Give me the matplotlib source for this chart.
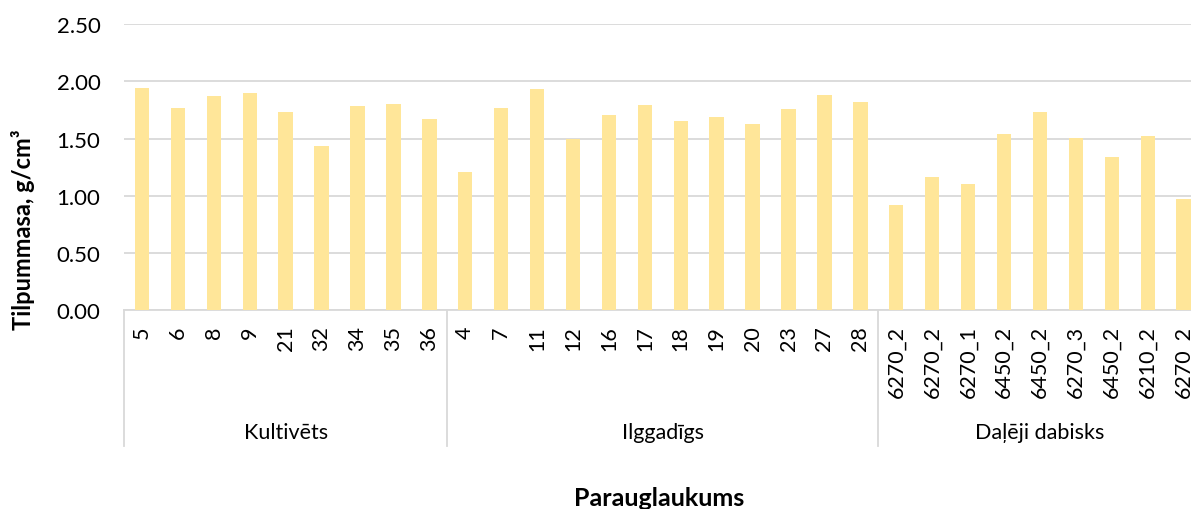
import numpy as np
import matplotlib
matplotlib.use("Agg")
import matplotlib.pyplot as plt
import matplotlib.transforms as mtransforms

plt.rcParams['font.family'] = ['Lato', 'DejaVu Sans']

groups = ["Kultivēts", "Ilggadīgs", "Daļēji dabisks"]
labels_kult = ["5", "6", "8", "9", "21", "32", "34", "35", "36"]
values_kult = [1.94, 1.77, 1.87, 1.90, 1.735, 1.435, 1.785, 1.80, 1.67]
labels_ilg = ["4", "7", "11", "12", "16", "17", "18", "19", "20", "23", "27", "28"]
values_ilg = [1.21, 1.77, 1.935, 1.495, 1.705, 1.79, 1.65, 1.69, 1.625, 1.755, 1.88, 1.82]
labels_dab = ["6270_2", "6270_2", "6270_1", "6450_2", "6450_2", "6270_3", "6450_2", "6210_2", "6270_2"]
values_dab = [0.92, 1.16, 1.10, 1.54, 1.73, 1.505, 1.34, 1.52, 0.975]

labels = labels_kult + labels_ilg + labels_dab
values = values_kult + values_ilg + values_dab
sizes = [len(labels_kult), len(labels_ilg), len(labels_dab)]

W, H = 1191, 510
fig = plt.figure(figsize=(W / 100, H / 100), dpi=100)
left, right, top, bottom = 124, 1201.6, 25.3, 311
ax = fig.add_axes([left / W, 1 - bottom / H, (right - left) / W, (bottom - top) / H])

x = np.arange(len(values))
ax.bar(x, values, width=0.4, color="#FFE699", zorder=3)
ax.set_xlim(-0.5, len(values) - 0.5)
ax.set_ylim(0, 2.5)
ax.set_yticks(np.arange(0, 2.51, 0.5))
ax.set_yticklabels([f"{v:.2f}" for v in np.arange(0, 2.51, 0.5)])
ax.grid(axis="y", color="#D9D9D9", linewidth=1.3, zorder=0)
for s in ["top", "right", "left"]:
    ax.spines[s].set_visible(False)
ax.spines["bottom"].set_color("#D9D9D9")
ax.spines["bottom"].set_linewidth(1.3)
ax.tick_params(axis="y", length=0, pad=17, labelsize=16, labelcolor="#000000")
ax.set_xticks(x)
ax.set_xticklabels(labels, rotation=90, va="top", ha="center")
ax.tick_params(axis="x", length=0, pad=11, labelsize=15.5)

trans = mtransforms.blended_transform_factory(ax.transData, ax.transAxes)
ph = bottom - top
line_bot = -(447 - 311) / ph
lab_y = -(433 - 311) / ph
edges = np.concatenate([[0], np.cumsum(sizes)]) - 0.5
for e in edges:
    ax.plot([e, e], [0, line_bot], transform=trans, color="#D9D9D9", linewidth=1.3, clip_on=False)
for g, a, b in zip(groups, edges[:-1], edges[1:]):
    ax.text((a + b) / 2, lab_y, g, transform=trans, ha="center", va="center", fontsize=15.5)

fig.text(659 / W, 1 - 499 / H, "Parauglaukums", ha="center", va="center", fontsize=18, fontweight="bold")
fig.text(23 / W, 1 - 230 / H, "Tilpummasa, g/cm³", ha="center", va="center", rotation=90,
         fontsize=17, fontweight="bold")

fig.savefig("out.png", dpi=100)
